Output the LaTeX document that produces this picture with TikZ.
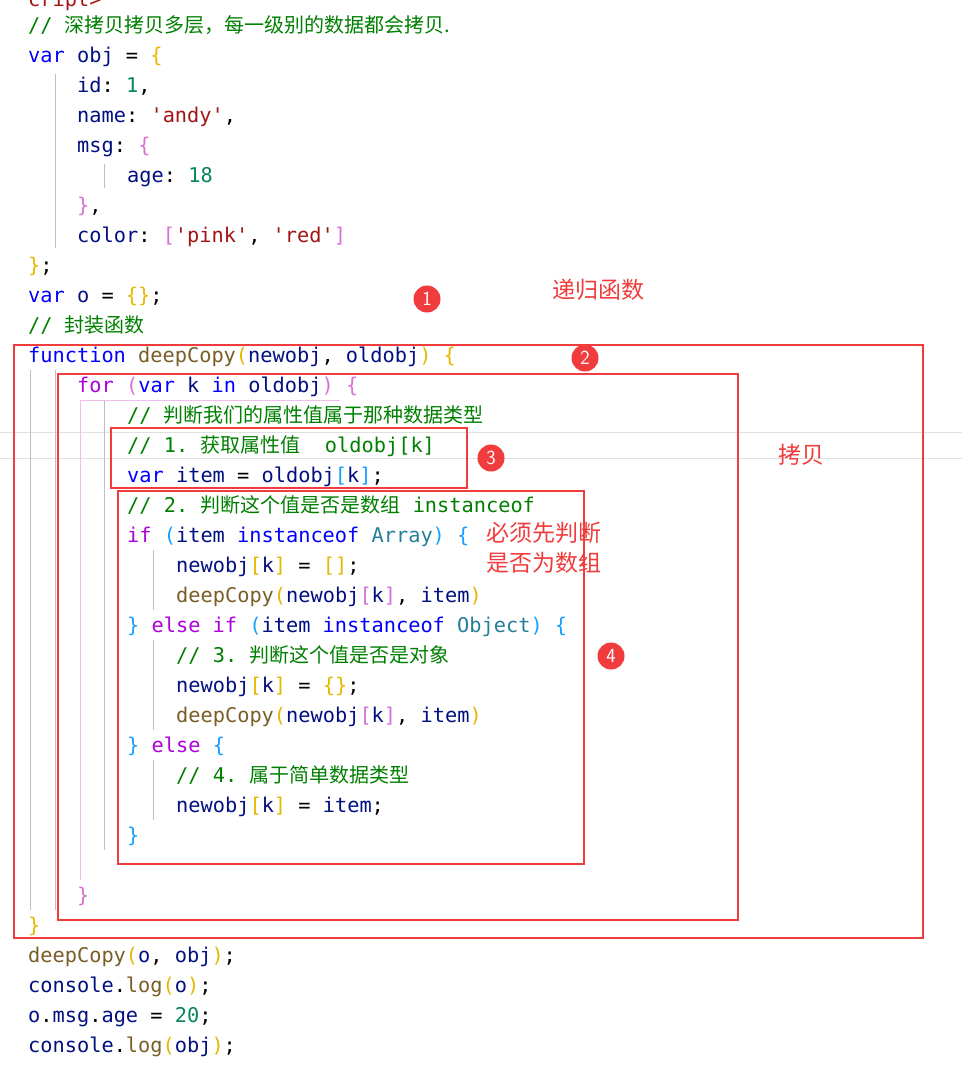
\documentclass[tikz,border=0pt]{standalone}
\usepackage{fontspec}
\setmonofont{DejaVu Sans Mono}
\newfontfamily\cjk{Noto Sans CJK SC}
\definecolor{kw}{HTML}{0000FF}
\definecolor{vr}{HTML}{001080}
\definecolor{nm}{HTML}{098658}
\definecolor{st}{HTML}{A31515}
\definecolor{cm}{HTML}{008000}
\definecolor{fn}{HTML}{795E26}
\definecolor{ba}{HTML}{E6B800}
\definecolor{bb}{HTML}{DA70D6}
\definecolor{bc}{HTML}{179FFF}
\definecolor{ctl}{HTML}{AF00DB}
\definecolor{cls}{HTML}{267F99}
\definecolor{rd}{HTML}{F03C3C}
\newcommand\K[1]{\textcolor{kw}{#1}}
\newcommand\V[1]{\textcolor{vr}{#1}}
\newcommand\N[1]{\textcolor{nm}{#1}}
\newcommand\Sx[1]{\textcolor{st}{#1}}
\newcommand\F[1]{\textcolor{fn}{#1}}
\newcommand\Ba[1]{\textcolor{ba}{#1}}
\newcommand\Bb[1]{\textcolor{bb}{#1}}
\newcommand\Bc[1]{\textcolor{bc}{#1}}
\newcommand\Cl[1]{\textcolor{ctl}{#1}}
\newcommand\C[1]{\textcolor{cm}{#1}}
\newcommand\Z[1]{{\cjk\fontsize{20}{20}\selectfont #1}}
\begin{document}
\begin{tikzpicture}[x=1pt,y=-1pt,
  ln/.style={anchor=base west,inner sep=0pt,font=\ttfamily\fontsize{20.3}{22}\selectfont},
  box/.style={draw=rd,line width=2pt},
  num/.style={circle,fill=rd,text=white,minimum size=27pt,inner sep=0pt,font=\sffamily\fontsize{20}{20}\selectfont},
  note/.style={text=rd,anchor=west,inner sep=0pt,font=\cjk\fontsize{23}{30}\selectfont,align=left},
  guide/.style={draw=black!25,line width=0.8pt}]
\useasboundingbox (0,0) rectangle (962,1084);
\fill[white] (0,0) rectangle (962,1084);
% light horizontal bands
\draw[black!12,line width=1pt] (0,432) -- (962,432) (0,458) -- (962,458);
% indent guides
\draw[guide] (55,74) -- (55,248);
\draw[guide] (104,164) -- (104,188);
\draw[guide] (30,370) -- (30,910);
\draw[guide] (55,370) -- (55,910);
\draw[guide] (104,400) -- (104,850);
\draw[guide] (153,550) -- (153,610) (153,640) -- (153,730) (153,760) -- (153,820);
\draw[bb!45,line width=1pt] (80,400) -- (80,880) (80,400) -- (340,400);
% code lines
\begin{scope}
\clip (0,0) rectangle (962,1084);
\node[ln] (r00) at (28,6) {\textcolor{st}{cript>}};
\end{scope}
\foreach \r/\x/\t in {
0/28/{\C{// \Z{深拷贝拷贝多层，每一级别的数据都会拷贝.}}},
1/28/{\K{var} \V{obj} = \Ba{\{}},
2/77/{\V{id}: \N{1},},
3/77/{\V{name}: \Sx{'andy'},},
4/77/{\V{msg}: \Bb{\{}},
5/127/{\V{age}: \N{18}},
6/77/{\Bb{\}},},
7/77/{\V{color}: \Bb{[}\Sx{'pink'}, \Sx{'red'}\Bb{]}},
8/28/{\Ba{\}};},
9/28/{\K{var} \V{o} = \Ba{\{\}};},
10/28/{\C{// \Z{封装函数}}},
11/28/{\K{function} \F{deepCopy}\Ba{(}\V{newobj}, \V{oldobj}\Ba{)} \Ba{\{}},
12/77/{\Cl{for} \Bb{(}\K{var} \V{k} \K{in} \V{oldobj}\Bb{)} \Bb{\{}},
13/127/{\C{// \Z{判断我们的属性值属于那种数据类型}}},
14/127/{\C{// 1. \Z{获取属性值}\ \ oldobj[k]}},
15/127/{\K{var} \V{item} = \V{oldobj}\Bc{[}\V{k}\Bc{]};},
16/127/{\C{// 2. \Z{判断这个值是否是数组} instanceof}},
17/127/{\Cl{if} \Bc{(}\V{item} \K{instanceof} \textcolor{cls}{Array}\Bc{)} \Bc{\{}},
18/176/{\V{newobj}\Ba{[}\V{k}\Ba{]} = \Ba{[]};},
19/176/{\F{deepCopy}\Ba{(}\V{newobj}\Bb{[}\V{k}\Bb{]}, \V{item}\Ba{)}},
20/127/{\Bc{\}} \Cl{else if} \Bc{(}\V{item} \K{instanceof} \textcolor{cls}{Object}\Bc{)} \Bc{\{}},
21/176/{\C{// 3. \Z{判断这个值是否是对象}}},
22/176/{\V{newobj}\Ba{[}\V{k}\Ba{]} = \Ba{\{\}};},
23/176/{\F{deepCopy}\Ba{(}\V{newobj}\Bb{[}\V{k}\Bb{]}, \V{item}\Ba{)}},
24/127/{\Bc{\}} \Cl{else} \Bc{\{}},
25/176/{\C{// 4. \Z{属于简单数据类型}}},
26/176/{\V{newobj}\Ba{[}\V{k}\Ba{]} = \V{item};},
27/127/{\Bc{\}}},
29/77/{\Bb{\}}},
30/28/{\Ba{\}}},
31/28/{\F{deepCopy}\Ba{(}\V{o}, \V{obj}\Ba{)};},
32/28/{\V{console}.\F{log}\Ba{(}\V{o}\Ba{)};},
33/28/{\V{o}.\V{msg}.\V{age} = \N{20};},
34/28/{\V{console}.\F{log}\Ba{(}\V{obj}\Ba{)};}}
  \node[ln] (l\r) at (\x,32+30*\r) {\t};
% red boxes
\draw[box] (14,345) rectangle (923,938);
\draw[box] (58,374) rectangle (738,920);
\draw[box] (111,428) rectangle (467,488);
\draw[box] (118,491) rectangle (584,864);
% circled numbers
\node[num] (n1) at (427,299) {1};
\node[num] (n2) at (585,358) {2};
\node[num] (n3) at (491,458) {3};
\node[num] (n4) at (611,656) {4};
% notes
\node[note] (t1) at (552,290) {递归函数};
\node[note] (t2) at (778,455) {拷贝};
\node[note] (t3) at (486,548) {必须先判断\\是否为数组};
\end{tikzpicture}
\end{document}
